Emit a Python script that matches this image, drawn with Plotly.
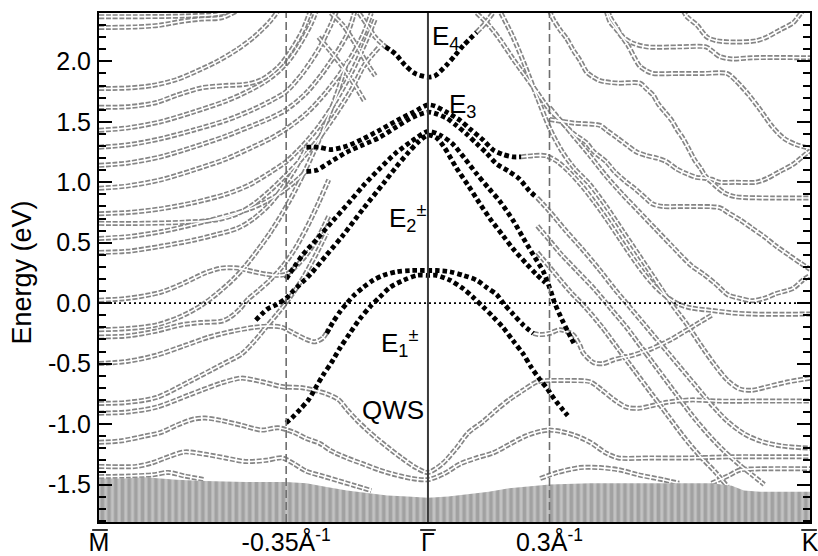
import plotly.graph_objects as go

# ---------------- axes ----------------
K_RANGE = [-0.812, 0.943]
E_RANGE = [-1.81, 2.40]
K_TICKS = [-0.812, -0.35, 0.0, 0.3, 0.943]
K_TICKTEXT = ["M", "-0.35Å<sup>-1</sup>", "\u0393", "0.3Å<sup>-1</sup>", "K"]
E_TICKS = [-1.5, -1.0, -0.5, 0.0, 0.5, 1.0, 1.5, 2.0]
E_TICKTEXT = ["-1.5", "-1.0", "-0.5", "0.0", "0.5", "1.0", "1.5", "2.0"]
K_DASHED = [-0.35, 0.3]
K_GAMMA = 0.0

# ---------------- bulk continuum (top edge) ----------------
BULK_K = [-0.812, -0.75, -0.70, -0.62, -0.55, -0.45, -0.35, -0.30, -0.25, -0.20, -0.15, -0.10, -0.05,
          0.0, 0.05, 0.10, 0.15, 0.20, 0.30, 0.40, 0.50, 0.60, 0.70, 0.75, 0.78, 0.82, 0.943]
BULK_TOP = [-1.45, -1.45, -1.44, -1.46, -1.47, -1.48, -1.48, -1.49, -1.52, -1.55, -1.57, -1.59, -1.60,
            -1.61, -1.60, -1.58, -1.56, -1.53, -1.50, -1.49, -1.49, -1.49, -1.49, -1.51, -1.55, -1.56, -1.56]

# ---------------- gray (bulk-like / QWS) bands: (k, E) ----------------
GRAY_LEFT = [
    [(-0.812, 2.37), (-0.70, 2.37), (-0.60, 2.375), (-0.52, 2.39), (-0.48, 2.42)],
    [(-0.812, 2.28), (-0.72, 2.285), (-0.66, 2.30), (-0.61, 2.33), (-0.56, 2.35), (-0.51, 2.36), (-0.47, 2.42)],
    [(-0.812, 1.775), (-0.74, 1.78), (-0.68, 1.80), (-0.62, 1.85), (-0.57, 1.92), (-0.52, 2.00), (-0.47, 2.10),
     (-0.43, 2.20), (-0.39, 2.33), (-0.37, 2.42)],
    [(-0.812, 1.62), (-0.74, 1.625), (-0.67, 1.66), (-0.62, 1.72), (-0.56, 1.78), (-0.50, 1.80), (-0.45, 1.81),
     (-0.41, 1.85), (-0.37, 1.95), (-0.34, 2.08), (-0.31, 2.25), (-0.29, 2.42)],
    [(-0.812, 1.43), (-0.74, 1.45), (-0.66, 1.50), (-0.58, 1.58), (-0.50, 1.67), (-0.44, 1.76), (-0.39, 1.86),
     (-0.35, 1.98), (-0.32, 2.12), (-0.29, 2.30), (-0.275, 2.42)],
    [(-0.812, 1.29), (-0.74, 1.31), (-0.66, 1.36), (-0.58, 1.43), (-0.50, 1.51), (-0.44, 1.59), (-0.39, 1.67),
     (-0.35, 1.75), (-0.31, 1.90), (-0.27, 2.10), (-0.24, 2.30), (-0.225, 2.42)],
    [(-0.812, 1.14), (-0.74, 1.16), (-0.66, 1.21), (-0.58, 1.29), (-0.50, 1.38), (-0.44, 1.46), (-0.39, 1.53),
     (-0.35, 1.60), (-0.30, 1.74), (-0.25, 1.95), (-0.20, 2.22), (-0.18, 2.42)],
    [(-0.812, 0.95), (-0.74, 0.97), (-0.66, 1.02), (-0.58, 1.10), (-0.50, 1.19), (-0.44, 1.28), (-0.39, 1.36),
     (-0.35, 1.44), (-0.30, 1.57), (-0.25, 1.75), (-0.20, 1.98), (-0.16, 2.22), (-0.14, 2.40)],
    [(-0.812, 0.74), (-0.74, 0.75), (-0.66, 0.78), (-0.58, 0.83), (-0.50, 0.90), (-0.44, 0.98), (-0.39, 1.08),
     (-0.35, 1.17), (-0.31, 1.30), (-0.27, 1.46), (-0.23, 1.66), (-0.19, 1.90), (-0.155, 2.15), (-0.13, 2.35)],
    [(-0.812, 0.66), (-0.70, 0.66), (-0.60, 0.67), (-0.52, 0.69), (-0.47, 0.74), (-0.43, 0.82), (-0.39, 0.93),
     (-0.35, 1.06), (-0.31, 1.20), (-0.27, 1.36), (-0.23, 1.55), (-0.19, 1.76), (-0.155, 1.98), (-0.12, 2.12)],
    [(-0.812, 0.535), (-0.74, 0.55), (-0.66, 0.59), (-0.58, 0.65), (-0.50, 0.72), (-0.44, 0.78), (-0.40, 0.84),
     (-0.36, 0.92), (-0.33, 1.00), (-0.30, 1.09)],
    [(-0.812, 0.42), (-0.74, 0.43), (-0.66, 0.47), (-0.58, 0.52), (-0.52, 0.57), (-0.47, 0.62), (-0.43, 0.70),
     (-0.39, 0.82), (-0.36, 0.95), (-0.33, 1.10), (-0.31, 1.22), (-0.30, 1.29)],
    [(-0.812, 0.025), (-0.74, 0.04), (-0.66, 0.09), (-0.60, 0.17), (-0.55, 0.25), (-0.51, 0.29), (-0.47, 0.29),
     (-0.43, 0.26), (-0.40, 0.24), (-0.37, 0.23), (-0.35, 0.24), (-0.33, 0.29), (-0.30, 0.40), (-0.27, 0.55),
     (-0.245, 0.72)],
    [(-0.812, -0.22), (-0.74, -0.21), (-0.67, -0.18), (-0.61, -0.11), (-0.56, -0.02), (-0.52, 0.08),
     (-0.48, 0.20), (-0.45, 0.31), (-0.42, 0.44), (-0.39, 0.58), (-0.36, 0.74), (-0.33, 0.92), (-0.30, 1.12),
     (-0.27, 1.34), (-0.245, 1.55), (-0.22, 1.78), (-0.20, 2.0)],
    [(-0.812, -0.28), (-0.74, -0.27), (-0.67, -0.23), (-0.61, -0.18), (-0.56, -0.16), (-0.51, -0.15),
     (-0.49, -0.12), (-0.465, -0.05), (-0.445, 0.03), (-0.42, 0.10), (-0.39, 0.19), (-0.36, 0.30),
     (-0.33, 0.44), (-0.30, 0.62), (-0.27, 0.83), (-0.245, 1.02)],
    [(-0.812, -0.50), (-0.74, -0.48), (-0.67, -0.43), (-0.60, -0.35), (-0.54, -0.28), (-0.48, -0.23),
     (-0.43, -0.20), (-0.39, -0.19), (-0.36, -0.20), (-0.33, -0.25), (-0.30, -0.30), (-0.28, -0.32),
     (-0.26, -0.29), (-0.246, -0.22)],
    [(-0.812, -0.83), (-0.74, -0.82), (-0.67, -0.78), (-0.59, -0.65), (-0.51, -0.51), (-0.46, -0.42),
     (-0.43, -0.32), (-0.40, -0.20), (-0.37, -0.08), (-0.34, 0.05), (-0.31, 0.20), (-0.28, 0.38), (-0.25, 0.58)],
    [(-0.812, -0.91), (-0.74, -0.90), (-0.67, -0.86), (-0.59, -0.76), (-0.51, -0.66), (-0.46, -0.62),
     (-0.41, -0.65), (-0.36, -0.69), (-0.31, -0.70), (-0.28, -0.72), (-0.25, -0.75), (-0.22, -0.80),
     (-0.20, -0.88), (-0.175, -0.97), (-0.15, -1.05), (-0.126, -1.12), (-0.10, -1.19), (-0.065, -1.28),
     (-0.03, -1.36), (0.0, -1.40), (0.035, -1.33), (0.07, -1.20), (0.10, -1.07), (0.136, -0.98), (0.17, -0.88),
     (0.20, -0.80), (0.235, -0.72), (0.27, -0.65), (0.30, -0.64), (0.35, -0.64), (0.40, -0.65), (0.43, -0.72),
     (0.46, -0.80), (0.49, -0.86), (0.52, -0.87), (0.55, -0.85), (0.59, -0.82), (0.65, -0.80), (0.72, -0.81),
     (0.80, -0.81), (0.943, -0.81)],
    [(-0.812, -1.15), (-0.76, -1.14), (-0.70, -1.10), (-0.66, -1.07), (-0.62, -1.01), (-0.58, -0.96),
     (-0.55, -0.95), (-0.51, -0.97), (-0.46, -1.01), (-0.41, -1.05), (-0.37, -1.03), (-0.33, -1.07),
     (-0.30, -1.12), (-0.267, -1.16), (-0.24, -1.22), (-0.20, -1.28), (-0.16, -1.33), (-0.12, -1.38),
     (-0.08, -1.42), (-0.04, -1.45), (0.0, -1.46), (0.04, -1.41), (0.079, -1.33), (0.12, -1.28), (0.16, -1.24),
     (0.20, -1.17), (0.24, -1.10), (0.277, -1.06), (0.30, -1.05), (0.326, -1.06), (0.36, -1.09), (0.40, -1.15),
     (0.44, -1.24), (0.47, -1.28), (0.55, -1.28), (0.65, -1.28), (0.75, -1.27), (0.85, -1.27), (0.943, -1.27)],
    [(-0.812, -1.35), (-0.72, -1.35), (-0.68, -1.32), (-0.64, -1.27), (-0.60, -1.23), (-0.55, -1.25),
     (-0.50, -1.28), (-0.45, -1.31), (-0.40, -1.30), (-0.36, -1.28), (-0.33, -1.33), (-0.30, -1.39),
     (-0.26, -1.43), (-0.22, -1.47), (-0.18, -1.51), (-0.14, -1.55)],
    [(-0.812, -1.435), (-0.74, -1.43), (-0.68, -1.42), (-0.64, -1.40), (-0.60, -1.43), (-0.55, -1.46)],
]

GRAY_MID = [
    [(-0.17, 2.40), (-0.15, 2.30), (-0.13, 2.20), (-0.105, 2.12)],
    [(-0.24, 2.40), (-0.21, 2.30), (-0.18, 2.15), (-0.15, 1.98), (-0.13, 1.88)],
    [(-0.27, 2.20), (-0.24, 2.08), (-0.21, 1.95), (-0.18, 1.80), (-0.155, 1.66)],
    [(0.12, 2.24), (0.14, 2.31), (0.16, 2.40)],
    [(0.26, -0.25), (0.277, -0.26), (0.30, -0.25), (0.326, -0.22), (0.358, -0.26), (0.375, -0.35),
     (0.383, -0.41), (0.408, -0.49), (0.432, -0.50), (0.457, -0.47), (0.48, -0.45), (0.506, -0.43),
     (0.55, -0.38), (0.60, -0.30), (0.65, -0.20), (0.70, -0.10)],
]

GRAY_RIGHT = [
    [(0.63, 2.42), (0.639, 2.37), (0.664, 2.30), (0.689, 2.20), (0.713, 2.17), (0.76, 2.16), (0.81, 2.17),
     (0.836, 2.20), (0.869, 2.26), (0.902, 2.32), (0.914, 2.37), (0.925, 2.42)],
    [(0.445, 2.42), (0.449, 2.37), (0.466, 2.28), (0.482, 2.20), (0.506, 2.15), (0.54, 2.12), (0.62, 2.12),
     (0.686, 2.12), (0.70, 2.09), (0.72, 2.04), (0.75, 2.02), (0.80, 2.03), (0.943, 2.03)],
    [(0.30, 2.42), (0.309, 2.35), (0.326, 2.26), (0.342, 2.19), (0.359, 2.09), (0.375, 2.01), (0.392, 1.91),
     (0.408, 1.87), (0.425, 1.84), (0.47, 1.82), (0.523, 1.82), (0.54, 1.77), (0.556, 1.72), (0.568, 1.65),
     (0.585, 1.58), (0.602, 1.51), (0.614, 1.44), (0.63, 1.36), (0.643, 1.28), (0.659, 1.18), (0.672, 1.12),
     (0.688, 1.04), (0.704, 1.02), (0.72, 1.00), (0.76, 1.00), (0.81, 1.00), (0.836, 1.03), (0.869, 1.09),
     (0.902, 1.15), (0.935, 1.24), (0.943, 1.26)],
    [(0.44, 2.42), (0.449, 2.33), (0.466, 2.26), (0.494, 2.13), (0.51, 2.03), (0.523, 1.96), (0.54, 1.92),
     (0.556, 1.90), (0.62, 1.90), (0.68, 1.90), (0.738, 1.90), (0.76, 1.84), (0.79, 1.73), (0.82, 1.60),
     (0.85, 1.46), (0.88, 1.36), (0.91, 1.31), (0.943, 1.28)],
    [(0.30, 1.52), (0.358, 1.49), (0.425, 1.47), (0.441, 1.43), (0.466, 1.37), (0.49, 1.31), (0.515, 1.25),
     (0.54, 1.22), (0.565, 1.20), (0.589, 1.17), (0.614, 1.11), (0.639, 1.07), (0.663, 1.04), (0.688, 1.03),
     (0.713, 0.96), (0.733, 0.91), (0.76, 0.88), (0.85, 0.87), (0.943, 0.87)],
    [(0.30, 1.62), (0.33, 1.50), (0.36, 1.40), (0.39, 1.33), (0.41, 1.25), (0.44, 1.17), (0.46, 1.09),
     (0.49, 1.00), (0.51, 0.95), (0.54, 0.86), (0.555, 0.82), (0.58, 0.80), (0.64, 0.80), (0.72, 0.79),
     (0.74, 0.75), (0.77, 0.69), (0.80, 0.62), (0.83, 0.55), (0.86, 0.47), (0.89, 0.40), (0.92, 0.33),
     (0.943, 0.28)],
    [(0.12, 2.40), (0.15, 2.30), (0.18, 2.17), (0.21, 2.02), (0.24, 1.88), (0.27, 1.74), (0.30, 1.60),
     (0.33, 1.50), (0.36, 1.38), (0.40, 1.22), (0.44, 1.05), (0.48, 0.90), (0.52, 0.76), (0.56, 0.62),
     (0.60, 0.48), (0.65, 0.31), (0.68, 0.24), (0.71, 0.16), (0.74, 0.07), (0.77, 0.04), (0.80, 0.02),
     (0.83, 0.04), (0.86, 0.08), (0.90, 0.12), (0.925, 0.19), (0.943, 0.23)],
    [(0.23, 1.21), (0.26, 1.22), (0.29, 1.22), (0.32, 1.17), (0.35, 1.08), (0.38, 0.97), (0.41, 0.84),
     (0.44, 0.70), (0.47, 0.55), (0.50, 0.40), (0.53, 0.26), (0.56, 0.14), (0.59, 0.05), (0.62, -0.01),
     (0.65, -0.04), (0.70, -0.06), (0.75, -0.08), (0.80, -0.09), (0.943, -0.09)],
    [(0.18, 2.40), (0.21, 2.20), (0.24, 1.96), (0.27, 1.70), (0.30, 1.45), (0.33, 1.26), (0.36, 1.12),
     (0.40, 0.98), (0.44, 0.80), (0.48, 0.60), (0.52, 0.40), (0.56, 0.20), (0.60, 0.00), (0.64, -0.18),
     (0.68, -0.38), (0.71, -0.52), (0.74, -0.64), (0.77, -0.71), (0.80, -0.72), (0.84, -0.69), (0.89, -0.65),
     (0.943, -0.62)],
    [(0.27, 0.87), (0.30, 0.76), (0.34, 0.60), (0.38, 0.45), (0.42, 0.29), (0.46, 0.12), (0.50, -0.04),
     (0.54, -0.20), (0.58, -0.36), (0.62, -0.52), (0.66, -0.68), (0.70, -0.84), (0.74, -0.98), (0.78, -1.08),
     (0.82, -1.14), (0.87, -1.18), (0.943, -1.20)],
    [(0.27, 0.64), (0.30, 0.52), (0.33, 0.40), (0.37, 0.26), (0.41, 0.12), (0.45, -0.04), (0.49, -0.20),
     (0.53, -0.38), (0.57, -0.56), (0.61, -0.74), (0.65, -0.92), (0.69, -1.08), (0.73, -1.22), (0.77, -1.34),
     (0.80, -1.42), (0.83, -1.50)],
    [(0.27, 0.42), (0.30, 0.30), (0.35, 0.10), (0.39, -0.04), (0.43, -0.20), (0.47, -0.38), (0.51, -0.56),
     (0.55, -0.74), (0.59, -0.92), (0.63, -1.10), (0.67, -1.26), (0.71, -1.40), (0.74, -1.52)],
    [(0.277, -1.45), (0.32, -1.40), (0.375, -1.36), (0.425, -1.36), (0.474, -1.38), (0.52, -1.42),
     (0.58, -1.46), (0.62, -1.49)],
    [(0.70, -1.49), (0.74, -1.43), (0.77, -1.38), (0.82, -1.37), (0.943, -1.37)],
]

# ---------------- surface-state bands (black) ----------------
E4_BAND = [(-0.105, 2.12), (-0.08, 2.06), (-0.057, 1.97), (-0.032, 1.90), (0.0, 1.87), (0.017, 1.88),
           (0.046, 1.97), (0.067, 2.05), (0.087, 2.13), (0.12, 2.24)]
E3_UPPER = [(-0.30, 1.29), (-0.27, 1.29), (-0.24, 1.27), (-0.20, 1.30), (-0.16, 1.36), (-0.12, 1.43),
            (-0.077, 1.51), (-0.036, 1.58), (0.0, 1.64), (0.017, 1.63), (0.046, 1.58), (0.08, 1.51),
            (0.104, 1.44), (0.136, 1.35), (0.16, 1.27), (0.185, 1.23), (0.21, 1.21), (0.23, 1.21)]
E3_LOWER = [(-0.30, 1.09), (-0.275, 1.10), (-0.24, 1.17), (-0.20, 1.25), (-0.16, 1.31), (-0.12, 1.37),
            (-0.077, 1.46), (-0.036, 1.54), (0.0, 1.58), (0.017, 1.57), (0.046, 1.53), (0.07, 1.47),
            (0.095, 1.40), (0.12, 1.32), (0.145, 1.24), (0.17, 1.15), (0.20, 1.09), (0.225, 1.03),
            (0.25, 0.93), (0.27, 0.87)]
E2_OUTER = [(-0.35, 0.20), (-0.33, 0.30), (-0.309, 0.40), (-0.274, 0.53), (-0.235, 0.68), (-0.193, 0.84),
            (-0.16, 0.97), (-0.12, 1.11), (-0.08, 1.24), (-0.04, 1.34), (0.0, 1.42), (0.03, 1.39),
            (0.06, 1.32), (0.09, 1.20), (0.12, 1.07), (0.15, 0.95), (0.178, 0.84), (0.211, 0.68),
            (0.235, 0.54), (0.26, 0.40), (0.285, 0.26), (0.30, 0.13), (0.313, 0.00), (0.33, -0.13),
            (0.346, -0.24), (0.36, -0.33)]
E2_INNER = [(-0.425, -0.14), (-0.41, -0.09), (-0.397, -0.05), (-0.373, -0.01), (-0.35, 0.04), (-0.333, 0.10),
            (-0.29, 0.24), (-0.25, 0.40), (-0.21, 0.56), (-0.16, 0.78), (-0.11, 0.99), (-0.08, 1.12),
            (-0.05, 1.24), (-0.025, 1.33), (0.0, 1.39), (0.02, 1.37), (0.04, 1.29), (0.07, 1.12), (0.10, 0.97),
            (0.121, 0.86), (0.153, 0.70), (0.185, 0.56), (0.21, 0.45), (0.242, 0.33), (0.267, 0.24),
            (0.29, 0.17)]
E1_OUTER = [(-0.25, -0.25), (-0.235, -0.16), (-0.217, -0.07), (-0.20, 0.00), (-0.184, 0.06), (-0.16, 0.13),
            (-0.135, 0.19), (-0.11, 0.23), (-0.077, 0.26), (-0.044, 0.27), (0.0, 0.27), (0.021, 0.27),
            (0.054, 0.26), (0.087, 0.23), (0.12, 0.19), (0.145, 0.13), (0.17, 0.07), (0.186, 0.00),
            (0.21, -0.09), (0.235, -0.18), (0.26, -0.25)]
E1_INNER = [(-0.35, -0.99), (-0.336, -0.95), (-0.316, -0.88), (-0.295, -0.80), (-0.274, -0.68),
            (-0.258, -0.59), (-0.238, -0.49), (-0.217, -0.37), (-0.193, -0.25), (-0.168, -0.13),
            (-0.143, -0.03), (-0.119, 0.05), (-0.094, 0.13), (-0.06, 0.19), (-0.027, 0.23), (0.0, 0.23),
            (0.021, 0.23), (0.054, 0.19), (0.087, 0.12), (0.111, 0.05), (0.136, -0.03), (0.16, -0.11),
            (0.185, -0.20), (0.21, -0.31), (0.235, -0.42), (0.255, -0.53), (0.276, -0.63), (0.293, -0.70),
            (0.305, -0.76), (0.318, -0.82), (0.33, -0.87), (0.345, -0.93)]
BLACK_BANDS = [E4_BAND, E3_UPPER, E3_LOWER, E2_OUTER, E2_INNER, E1_OUTER, E1_INNER]

FONT = "Liberation Sans, Arial, Helvetica, sans-serif"
GRAY = "#858585"

fig = go.Figure()


def kx(band):
    return [p[0] for p in band]


def ey(band):
    return [p[1] for p in band]


GRAY_ALL = GRAY_LEFT + GRAY_MID + GRAY_RIGHT

# outer ring of the hollow circles
for band in GRAY_ALL:
    fig.add_trace(go.Scatter(x=kx(band), y=ey(band), mode="lines",
                             line=dict(color=GRAY, width=5, dash="5px,1.7px", shape="spline", smoothing=0.8),
                             hoverinfo="skip"))
# hollow centre
for band in GRAY_ALL:
    fig.add_trace(go.Scatter(x=kx(band), y=ey(band), mode="lines",
                             line=dict(color="white", width=1.6, shape="spline", smoothing=0.8),
                             hoverinfo="skip"))

# bulk continuum
bx = BULK_K + BULK_K[::-1]
by = BULK_TOP + [E_RANGE[0] - 0.05] * len(BULK_K)
fig.add_trace(go.Scatter(x=bx, y=by, mode="lines", fill="toself", line=dict(width=0, color=GRAY),
                         fillcolor="#a0a0a0",
                         fillpattern=dict(shape="|", fgcolor="#7f7f7f", bgcolor="#c2c2c2", size=6.7,
                                          solidity=0.55),
                         hoverinfo="skip"))

# surface states
for band in BLACK_BANDS:
    fig.add_trace(go.Scatter(x=kx(band), y=ey(band), mode="lines",
                             line=dict(color="black", width=4.8, dash="4.5px,3px", shape="spline",
                                       smoothing=0.8),
                             hoverinfo="skip"))

shapes = []
for k in K_DASHED:
    shapes.append(dict(type="line", xref="x", yref="paper", x0=k, x1=k, y0=0, y1=1,
                       line=dict(color="#6e6e6e", width=1.6, dash="8px,4px"), layer="above"))
shapes.append(dict(type="line", xref="x", yref="paper", x0=K_GAMMA, x1=K_GAMMA, y0=0, y1=1,
                   line=dict(color="#3a3a3a", width=2), layer="above"))
shapes.append(dict(type="line", xref="paper", yref="y", x0=0, x1=1, y0=0, y1=0,
                   line=dict(color="black", width=1.6, dash="2px,3px"), layer="above"))
# overbars of the high-symmetry point labels (M, Gamma, K)
for xc in (0.0014, 0.4627, 0.9987):
    shapes.append(dict(type="line", xref="paper", yref="paper", x0=xc - 0.011, x1=xc + 0.011,
                       y0=-0.0157, y1=-0.0157, line=dict(color="black", width=1.6)))

annotations = [
    dict(x=0.004, y=2.35, text="E<sub>4</sub>"),
    dict(x=0.047, y=1.79, text="E<sub>3</sub>"),
    dict(x=-0.101, y=0.87, text="E<sub>2</sub><sup>±</sup>"),
    dict(x=-0.121, y=-0.16, text="E<sub>1</sub><sup>±</sup>"),
    dict(x=-0.167, y=-0.74, text="QWS"),
]
for a in annotations:
    a.update(xref="x", yref="y", xanchor="left", yanchor="top", showarrow=False,
             font=dict(family=FONT, size=26, color="black"))
annotations.append(dict(x=0, xref="paper", xshift=-77, y=0.49, yref="paper", text="Energy (eV)",
                        textangle=-90, showarrow=False, xanchor="center", yanchor="middle",
                        font=dict(family=FONT, size=27, color="black")))

fig.update_layout(
    width=818, height=556,
    margin=dict(l=99, r=8, t=13, b=34, autoexpand=False),
    plot_bgcolor="white", paper_bgcolor="white",
    showlegend=False, hovermode=False,
    shapes=shapes, annotations=annotations,
    xaxis=dict(range=K_RANGE, tickvals=K_TICKS, ticktext=K_TICKTEXT, ticks="", showgrid=False,
               zeroline=False, showline=True, linewidth=2, linecolor="black", mirror=True,
               automargin=False, ticklabeloverflow="allow",
               tickfont=dict(family=FONT, size=25, color="black"), ticklabelstandoff=-3),
    yaxis=dict(range=E_RANGE, tickvals=E_TICKS, ticktext=E_TICKTEXT, ticks="inside", ticklen=13,
               tickwidth=2, tickcolor="black", showgrid=False, zeroline=False, showline=True,
               linewidth=2, linecolor="black", mirror="ticks", automargin=False,
               minor=dict(tick0=0, dtick=0.1, ticks="inside", ticklen=7, tickwidth=1.5, tickcolor="black",
                          showgrid=False),
               tickfont=dict(family=FONT, size=25, color="black"), ticklabelstandoff=1),
)

fig.write_html("out.html")
